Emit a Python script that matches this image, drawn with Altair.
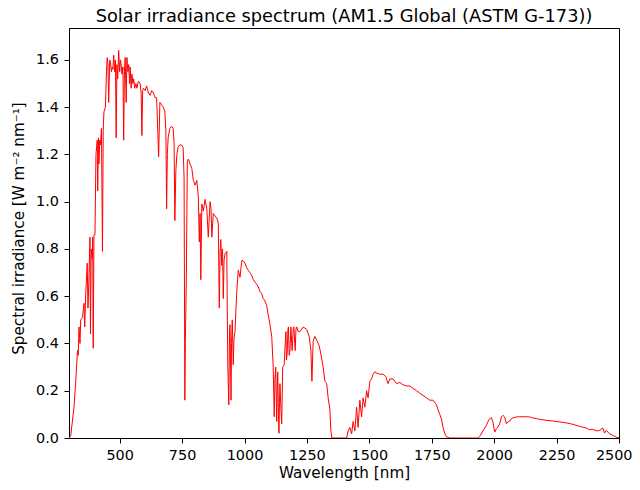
import altair as alt
import pandas as pd

wavelength = [
    297, 304, 317, 324, 331, 334, 337, 341, 344, 351, 357, 360, 364, 370, 373, 377, 381, 383, 386,
    390, 392, 394, 397, 401, 405, 410, 412, 415, 417, 420, 423, 427, 431, 434, 437, 443, 447, 450, 453,
    456, 460, 463, 467, 470, 473, 476, 480, 483, 486, 489, 492, 496, 500, 503, 507, 509, 513, 516, 519,
    522, 526, 529, 533, 536, 540, 542, 546, 549, 553, 556, 560, 565, 569, 575, 582, 586, 589, 592, 595,
    602, 608, 615, 622, 628, 635, 642, 648, 656, 661, 668, 675, 681, 685, 688, 691, 694, 701, 708, 714,
    718, 721, 725, 729, 734, 740, 747, 754, 758, 761, 763, 767, 771, 775,
    782, 789, 795, 802, 809, 815, 819, 822, 825, 829, 835, 842, 849, 855, 862, 866, 869, 875, 882, 889,
    895, 899, 902, 905, 909, 912, 915, 918, 922, 929, 933, 937, 940, 942, 946, 948, 951, 955, 958, 962,
    966, 969, 975, 982, 989, 995, 1002, 1009, 1015, 1022, 1028, 1035, 1042, 1049, 1055, 1062, 1069, 1075,
    1082, 1089, 1095, 1102, 1109, 1115, 1119, 1122, 1125, 1129, 1131, 1133, 1136, 1138, 1140, 1142, 1146,
    1149, 1153, 1159, 1163, 1166, 1168, 1171, 1174, 1176, 1179, 1182, 1186, 1189, 1191, 1195, 1198, 1201,
    1203, 1206, 1209, 1215, 1222, 1235, 1249, 1259, 1266, 1270, 1275, 1282, 1291, 1299, 1305, 1310, 1315,
    1322, 1329, 1335, 1342, 1346, 1350, 1360, 1380, 1400, 1409, 1415, 1422, 1429, 1435, 1442, 1449, 1455,
    1462, 1469, 1475, 1482, 1489, 1495, 1502, 1509, 1515, 1522, 1529, 1542, 1555, 1566, 1575, 1582, 1595,
    1609, 1622, 1635, 1649, 1662, 1675, 1689, 1702, 1715, 1729, 1742, 1755, 1769, 1775, 1782, 1789, 1795,
    1802, 1809, 1822, 1850, 1900, 1935, 1942, 1955, 1969, 1979, 1989, 1995, 2002, 2009, 2015, 2022, 2029,
    2035, 2042, 2049, 2055, 2062, 2069, 2075, 2089, 2102, 2129, 2142, 2155, 2169, 2182, 2209, 2235, 2262,
    2289, 2315, 2342, 2369, 2382, 2395, 2409, 2422, 2435, 2442, 2449, 2462, 2475, 2489, 2500,
]

irradiance = [
    0.0, 0.01, 0.13, 0.24, 0.37, 0.35, 0.47, 0.40, 0.50, 0.51, 0.57, 0.47, 0.61, 0.74, 0.55, 0.68, 0.85, 0.44, 0.80,
    0.76, 0.85, 0.38, 0.86, 0.86, 1.20, 1.26, 1.045, 1.27, 1.16, 1.26, 1.24, 1.31, 0.79, 1.30, 1.38, 1.40, 1.55, 1.61, 1.58,
    1.42, 1.60, 1.59, 1.55, 1.57, 1.56, 1.62, 1.55, 1.60, 1.27, 1.58, 1.52, 1.64, 1.55, 1.60, 1.57, 1.54, 1.57, 1.26, 1.55,
    1.61, 1.42, 1.61, 1.55, 1.58, 1.50, 1.57, 1.48, 1.54, 1.50, 1.52, 1.48, 1.50, 1.48, 1.51, 1.50, 1.46, 1.28, 1.47, 1.48,
    1.47, 1.49, 1.46, 1.45, 1.47, 1.46, 1.44, 1.44, 1.19, 1.42, 1.41, 1.40, 1.38, 1.30, 0.97, 1.20, 1.27, 1.31, 1.32, 1.31,
    1.25, 0.92, 1.13, 1.20, 1.23, 1.24, 1.24, 1.23, 1.10, 0.16, 0.40, 0.68, 1.17, 1.18,
    1.16, 1.14, 1.09, 1.07, 1.09, 1.02, 0.83, 0.95, 0.67, 0.99, 0.96, 1.01, 0.97, 0.85, 1.00, 0.97, 0.85, 0.95, 0.94, 0.93,
    0.91, 0.55, 0.78, 0.84, 0.73, 0.80, 0.59, 0.75, 0.78, 0.79, 0.31, 0.14, 0.45, 0.48, 0.16, 0.40, 0.50, 0.31, 0.42, 0.45,
    0.55, 0.62, 0.71, 0.68, 0.75, 0.75, 0.74, 0.72, 0.71, 0.70, 0.69, 0.67, 0.66, 0.65, 0.64, 0.62, 0.61, 0.59,
    0.58, 0.56, 0.52, 0.48, 0.43, 0.30, 0.09, 0.25, 0.30, 0.07, 0.20, 0.28, 0.10, 0.02, 0.15, 0.23, 0.12,
    0.06, 0.30, 0.31, 0.40, 0.45, 0.33, 0.36, 0.46, 0.47, 0.35, 0.37, 0.47, 0.40, 0.37, 0.46, 0.47, 0.40,
    0.37, 0.46, 0.47, 0.45, 0.45, 0.47, 0.46, 0.43, 0.37, 0.24, 0.41, 0.43, 0.41, 0.39, 0.36, 0.33, 0.30,
    0.24, 0.23, 0.17, 0.12, 0.03, 0.0, 0.0, 0.0, 0.0, 0.0, 0.03, 0.045, 0.017, 0.07, 0.03, 0.13, 0.045,
    0.16, 0.09, 0.17, 0.13, 0.20, 0.17, 0.24, 0.25, 0.27, 0.28, 0.275, 0.27, 0.27, 0.26, 0.23, 0.25, 0.25,
    0.23, 0.235, 0.225, 0.22, 0.22, 0.21, 0.20, 0.19, 0.18, 0.17, 0.16, 0.16, 0.14, 0.12, 0.10, 0.08, 0.045,
    0.02, 0.005, 0.0, 0.0, 0.0, 0.0, 0.007, 0.03, 0.054, 0.078, 0.086, 0.068, 0.025, 0.04, 0.046, 0.06, 0.089,
    0.096, 0.089, 0.06, 0.068, 0.071, 0.082, 0.085, 0.089, 0.090, 0.090, 0.089, 0.085, 0.082, 0.079, 0.075, 0.072, 0.068,
    0.064, 0.058, 0.049, 0.042, 0.035, 0.037, 0.030, 0.032, 0.042, 0.021, 0.032, 0.018, 0.011, 0.004, 0.0,
]

x_ticks = [500, 750, 1000, 1250, 1500, 1750, 2000, 2250, 2500]
y_ticks = [0.0, 0.2, 0.4, 0.6, 0.8, 1.0, 1.2, 1.4, 1.6]

df = pd.DataFrame({"wavelength": wavelength, "irradiance": irradiance})

FONT = "DejaVu Sans"
TICK_FS = 14.4
AXIS_TITLE_FS = 15.2

chart = alt.Chart(df).mark_line(color="#ff0000", strokeWidth=1, clip=True).encode(
    x=alt.X("wavelength:Q",
            scale=alt.Scale(domain=[297, 2500], nice=False, zero=False),
            axis=alt.Axis(values=x_ticks, format="d", title="Wavelength [nm]", grid=False,
                          tickSize=5, labelPadding=5, labelFontSize=TICK_FS,
                          titleFontSize=AXIS_TITLE_FS, titleFontWeight="normal", titlePadding=4,
                          labelFlush=True, labelFlushOffset=13)),
    y=alt.Y("irradiance:Q",
            scale=alt.Scale(domain=[0, 1.735], nice=False, zero=False),
            axis=alt.Axis(values=y_ticks, format=".1f", title="Spectral irradiance [W m⁻² nm⁻¹]",
                          grid=False, tickSize=5, labelPadding=5.5, labelFontSize=TICK_FS,
                          titleFontSize=AXIS_TITLE_FS, titleFontWeight="normal", titlePadding=9,
                          titleY=200, labelFlush=False)),
).properties(
    width=550,
    height=410,
    title=alt.TitleParams("Solar irradiance spectrum (AM1.5 Global (ASTM G-173))",
                          fontSize=17.8, fontWeight="normal", font=FONT, offset=2.5),
    autosize=alt.AutoSizeParams(type="none"),
    padding={"left": 61, "top": 20, "right": 13, "bottom": 44},
).configure_axis(
    labelFont=FONT, titleFont=FONT, domainColor="black", tickColor="black",
    labelColor="black", titleColor="black", domainWidth=1, tickWidth=1,
).configure_view(
    stroke="black", strokeWidth=1,
).configure_title(color="black")

chart.save("out.html", embed_options={"renderer": "svg", "actions": False})
